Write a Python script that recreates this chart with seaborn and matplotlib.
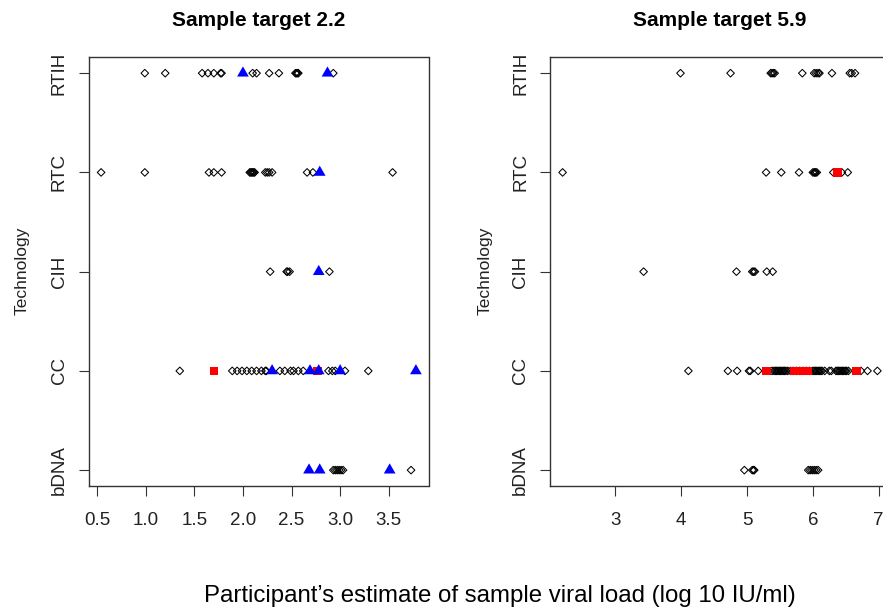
import matplotlib
matplotlib.use("Agg")
import matplotlib.pyplot as plt
import seaborn as sns
import pandas as pd

sns.set_theme(style="white")
plt.rcParams["font.family"] = ["Liberation Sans", "DejaVu Sans"]

# ---------------- data ----------------
technologies = ["bDNA", "CC", "CIH", "RTC", "RTIH"]
panel_titles = ["Sample target 2.2", "Sample target 5.9"]
x_ticks_22 = [0.5, 1.0, 1.5, 2.0, 2.5, 3.0, 3.5]
x_ticks_59 = [3, 4, 5, 6, 7]

# Sample target 2.2 -- open diamonds (other), blue triangles, red squares
rtih_22_other = [0.99, 1.20, 1.58, 1.64, 1.70, 1.77, 1.78, 2.10, 2.14, 2.27, 2.37, 2.54, 2.55, 2.56, 2.57, 2.93]
rtih_22_tri = [2.00, 2.87]
rtc_22_other = [0.54, 0.99, 1.65, 1.70, 1.78, 2.07, 2.08, 2.09, 2.10, 2.11, 2.12, 2.23, 2.25, 2.27, 2.30,
                2.66, 2.72, 3.54]
rtc_22_tri = [2.79]
cih_22_other = [2.28, 2.45, 2.46, 2.48, 2.89]
cih_22_tri = [2.78]
cc_22_other = [1.35, 1.89, 1.94, 1.99, 2.04, 2.09, 2.14, 2.19, 2.23, 2.24, 2.38, 2.43, 2.49, 2.52, 2.57,
               2.62, 2.88, 2.92, 2.95, 3.05, 3.29]
cc_22_tri = [2.30, 2.69, 2.78, 3.00, 3.78]
cc_22_sq = [1.70, 2.77]
bdna_22_other = [2.93, 2.95, 2.97, 2.99, 3.01, 3.03, 3.73]
bdna_22_tri = [2.68, 2.79, 3.51]

# Sample target 5.9
rtih_59_other = [3.99, 4.75, 5.36, 5.38, 5.40, 5.42, 5.84, 6.02, 6.05, 6.08, 6.10, 6.29, 6.56, 6.59, 6.64]
rtc_59_other = [2.20, 5.29, 5.52, 5.79, 6.00, 6.02, 6.03, 6.04, 6.06, 6.31, 6.44, 6.53]
rtc_59_sq = [6.37]
cih_59_other = [3.43, 4.84, 5.08, 5.10, 5.12, 5.30, 5.39]
cc_59_other = [4.11, 4.71, 4.85, 5.03, 5.05, 5.17, 5.38, 5.41, 5.43, 5.45, 5.47, 5.49, 5.51, 5.53, 5.55,
               5.57, 5.59, 5.62, 5.66, 5.70, 5.75, 5.80, 5.85, 5.90, 5.95, 6.00, 6.02, 6.04, 6.06, 6.08,
               6.10, 6.12, 6.14, 6.18, 6.25, 6.28, 6.35, 6.37, 6.39, 6.41, 6.43, 6.45, 6.47, 6.49, 6.51,
               6.54, 6.73, 6.83, 6.98]
cc_59_sq = [5.30, 5.72, 5.77, 5.82, 5.87, 5.92, 6.66]
bdna_59_other = [4.96, 5.08, 5.10, 5.11, 5.93, 5.96, 5.99, 6.02, 6.05, 6.08]

rows = []
def add(panel, tech, kind, values):
    for v in values:
        rows.append({"panel": panel, "tech": tech, "kind": kind, "value": v})

add(0, "RTIH", "other", rtih_22_other); add(0, "RTIH", "tri", rtih_22_tri)
add(0, "RTC", "other", rtc_22_other); add(0, "RTC", "tri", rtc_22_tri)
add(0, "CIH", "other", cih_22_other); add(0, "CIH", "tri", cih_22_tri)
add(0, "CC", "other", cc_22_other); add(0, "CC", "tri", cc_22_tri); add(0, "CC", "sq", cc_22_sq)
add(0, "bDNA", "other", bdna_22_other); add(0, "bDNA", "tri", bdna_22_tri)
add(1, "RTIH", "other", rtih_59_other)
add(1, "RTC", "other", rtc_59_other); add(1, "RTC", "sq", rtc_59_sq)
add(1, "CIH", "other", cih_59_other)
add(1, "CC", "other", cc_59_other); add(1, "CC", "sq", cc_59_sq)
add(1, "bDNA", "other", bdna_59_other)

df = pd.DataFrame(rows)
df["ypos"] = df["tech"].map({t: i + 1 for i, t in enumerate(technologies)})

# ---------------- figure ----------------
W, H = 883, 612
fig = plt.figure(figsize=(W / 100, H / 100), dpi=100)
ax_top, ax_bot = 57.3, 486.0
axes = [
    fig.add_axes([88.5 / W, 1 - ax_bot / H, 340 / W, (ax_bot - ax_top) / H]),
    fig.add_axes([550 / W, 1 - ax_bot / H, 340 / W, (ax_bot - ax_top) / H]),
]

tri_verts = [(-1.0, -0.577), (1.0, -0.577), (0.0, 1.155)]
styles = [
    ("other", "D", 15, "none", "black", 0.75, 3),
    ("sq", "s", 38, "#FF0000", "none", 0, 4),
    ("tri", tri_verts, 95, "#0000FF", "none", 0, 5),
]

for p, ax in enumerate(axes):
    sub = df[df["panel"] == p]
    for kind, marker, size, fc, ec, lw, z in styles:
        d = sub[sub["kind"] == kind]
        if len(d) == 0:
            continue
        sns.scatterplot(data=d, x="value", y="ypos", ax=ax, marker=marker, s=size,
                        facecolor=fc, edgecolor=ec, linewidth=lw, legend=False, zorder=z)
    lo, hi = sub["value"].min(), sub["value"].max()
    pad = 0.04 * (hi - lo)
    ax.set_xlim(lo - pad, hi + pad)
    ax.set_ylim(0.84, 5.16)
    ax.set_xlabel("")
    ax.set_ylabel("")
    ticks = x_ticks_22 if p == 0 else x_ticks_59
    ax.set_xticks(ticks)
    ax.set_xticklabels([f"{t:.1f}" if p == 0 else f"{t}" for t in ticks], fontsize=13.5)
    ax.set_yticks(range(1, len(technologies) + 1))
    ax.set_yticklabels(technologies, rotation=90, va="center", fontsize=13.5)
    for sp in ax.spines.values():
        sp.set_visible(True)
        sp.set_color("#333333")
        sp.set_linewidth(1.0)
    ax.tick_params(axis="x", bottom=True, length=7, width=0.8, color="#333333", pad=12,
                   labelcolor="#222222")
    ax.tick_params(axis="y", left=True, length=7, width=0.8, color="#333333", pad=8,
                   labelcolor="#222222")
    ax.grid(False)

    cx = (88.5 + 170) / W if p == 0 else (550 + 170) / W
    fig.text(cx, 1 - 21 / H, panel_titles[p], ha="center", va="center", fontsize=15,
             fontweight="bold", color="black")
    lx = 22 / W if p == 0 else 485 / W
    fig.text(lx, 1 - 271 / H, "Technology", rotation=90, ha="center", va="center",
             fontsize=12.5, color="#222222")

fig.text(500 / W, 1 - 596 / H, "Participant\u2019s estimate of sample viral load (log 10 IU/ml)",
         ha="center", va="center", fontsize=17.3, color="black")

fig.savefig("out.png", dpi=100)
